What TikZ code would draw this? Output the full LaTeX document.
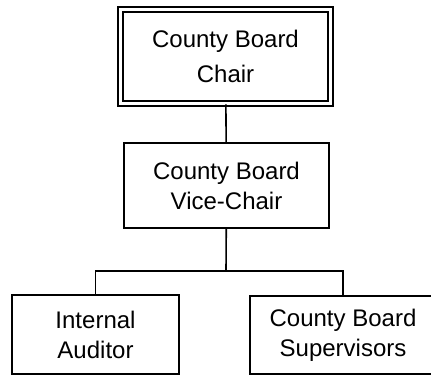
\documentclass[tikz,border=0pt]{standalone}
\usepackage{fontspec}
\setmainfont{Liberation Sans}
\usetikzlibrary{positioning}

\begin{document}
\begin{tikzpicture}[x=0.5pt, y=-0.5pt,
    box/.style={draw, line width=0.8pt, align=center, inner sep=0pt,
      font=\fontsize{12pt}{15pt}\selectfont},
    link/.style={draw, line width=0.8pt}]
    \useasboundingbox (0, 0) rectangle (431, 375);

    \node[box, double, line width=0.75pt, double distance=1.75pt,
      minimum width=105pt, minimum height=47pt,
      font=\fontsize{12pt}{17.5pt}\selectfont] (chair) at (225.5, 56.5) {County Board\\Chair};
    \node[box, minimum width=102.5pt, minimum height=42.5pt] (vice) at (226.5, 185.5) {County Board\\Vice-Chair};

    \node[box, minimum width=83.5pt, minimum height=39.5pt] (auditor) at (95.5, 334.5) {Internal\\Auditor};
    \node[box, minimum width=93pt, minimum height=39pt] (supervisors) at (343, 335) {County Board\\Supervisors};

    \coordinate (split) at (226, 271);
    \draw[link] (chair) -- (vice);
    \draw[link] (vice) -- (split);
    \draw[link] (auditor) |- (split) -| (supervisors);
  \end{tikzpicture}
\end{document}
